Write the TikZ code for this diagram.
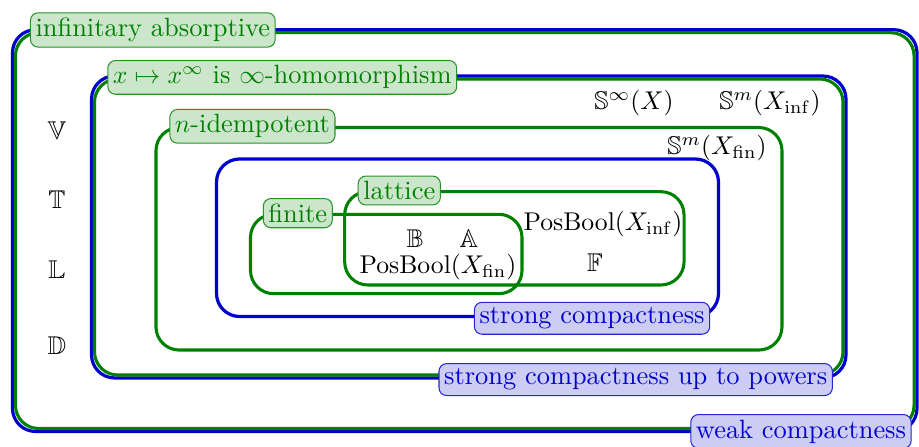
\documentclass[tikz,border=0pt]{standalone}
\usepackage{amssymb}
\usepackage{tikz}
\definecolor{clrG}{RGB}{0,128,0}
\definecolor{clrB}{RGB}{0,0,204}
\tikzset{
  gframe/.style={draw=clrG,line width=1.2pt,rounded corners=9pt},
  bframe/.style={draw=clrB,line width=1.25pt,rounded corners=9pt},
  glabel/.style={rectangle,rounded corners=3pt,draw=clrG!85,fill=clrG!20,
    text=clrG,inner sep=2pt,line width=0.4pt},
  blabel/.style={rectangle,rounded corners=3pt,draw=clrB!85,fill=clrB!20,
    text=clrB,inner sep=2pt,line width=0.4pt},
  elem/.style={inner sep=1pt,font=\fontsize{10pt}{12pt}\selectfont}
}
\begin{document}
\begin{tikzpicture}[x=1cm,y=1cm,font=\fontsize{10.3pt}{12.4pt}\selectfont]
\useasboundingbox (0,0) rectangle (12.59,6.11);

% Nested property regions (blue = compactness, green = algebraic).
\draw[bframe] (0.171,5.703) rectangle (12.563,0.199);
\draw[gframe] (0.212,5.662) rectangle (12.522,0.240);
\draw[bframe] (1.254,5.069) rectangle (11.590,0.932);
\draw[gframe] (1.295,5.028) rectangle (11.549,0.973);
\draw[gframe] (2.137,4.363) rectangle (10.713,1.315);
\draw[bframe] (2.966,3.932) rectangle (9.843,1.774);
\draw[gframe] (4.722,3.484) rectangle (9.371,2.206);
\draw[gframe] (3.432,3.174) rectangle (7.151,2.087);

% Region labels sitting on the frames.
\node[glabel,anchor=west] (infabs) at (0.41,5.70) {infinitary absorptive};
\node[glabel,anchor=west] (hom) at (1.47,5.05)
  {$x\mapsto x^\infty$ is $\infty$-homomorphism};
\node[glabel,anchor=west] (idem) at (2.32,4.38) {$n$-idempotent};
\node[glabel,anchor=west] (latt) at (4.90,3.50) {lattice};
\node[glabel,anchor=west] (fin) at (3.60,3.19) {finite};
\node[blabel,anchor=east] (strong) at (9.73,1.75) {strong compactness};
\node[blabel,anchor=east] (strongpow) at (11.41,0.91)
  {strong compactness up to powers};
\node[blabel,anchor=east] (weak) at (12.49,0.20) {weak compactness};

% Semirings placed in their regions.
\node[elem] (V) at (0.781,4.316) {$\mathbb{V}$};
\node[elem] (T) at (0.781,3.370) {$\mathbb{T}$};
\node[elem] (L) at (0.781,2.411) {$\mathbb{L}$};
\node[elem] (D) at (0.781,1.370) {$\mathbb{D}$};
\node[elem] (Sinf) at (8.686,4.699) {$\mathbb{S}^\infty(X)$};
\node[elem] (SmXinf) at (10.549,4.699) {$\mathbb{S}^m(X_{\mathrm{inf}})$};
\node[elem] (SmXfin) at (9.823,4.083) {$\mathbb{S}^m(X_{\mathrm{fin}})$};
\node[elem] (B) at (5.686,2.836) {$\mathbb{B}$};
\node[elem] (A) at (6.425,2.836) {$\mathbb{A}$};
\node[elem] (PBfin) at (6.001,2.452) {$\mathrm{PosBool}(X_{\mathrm{fin}})$};
\node[elem] (PBinf) at (8.261,3.041) {$\mathrm{PosBool}(X_{\mathrm{inf}})$};
\node[elem] (F) at (8.152,2.507) {$\mathbb{F}$};
\end{tikzpicture}
\end{document}
